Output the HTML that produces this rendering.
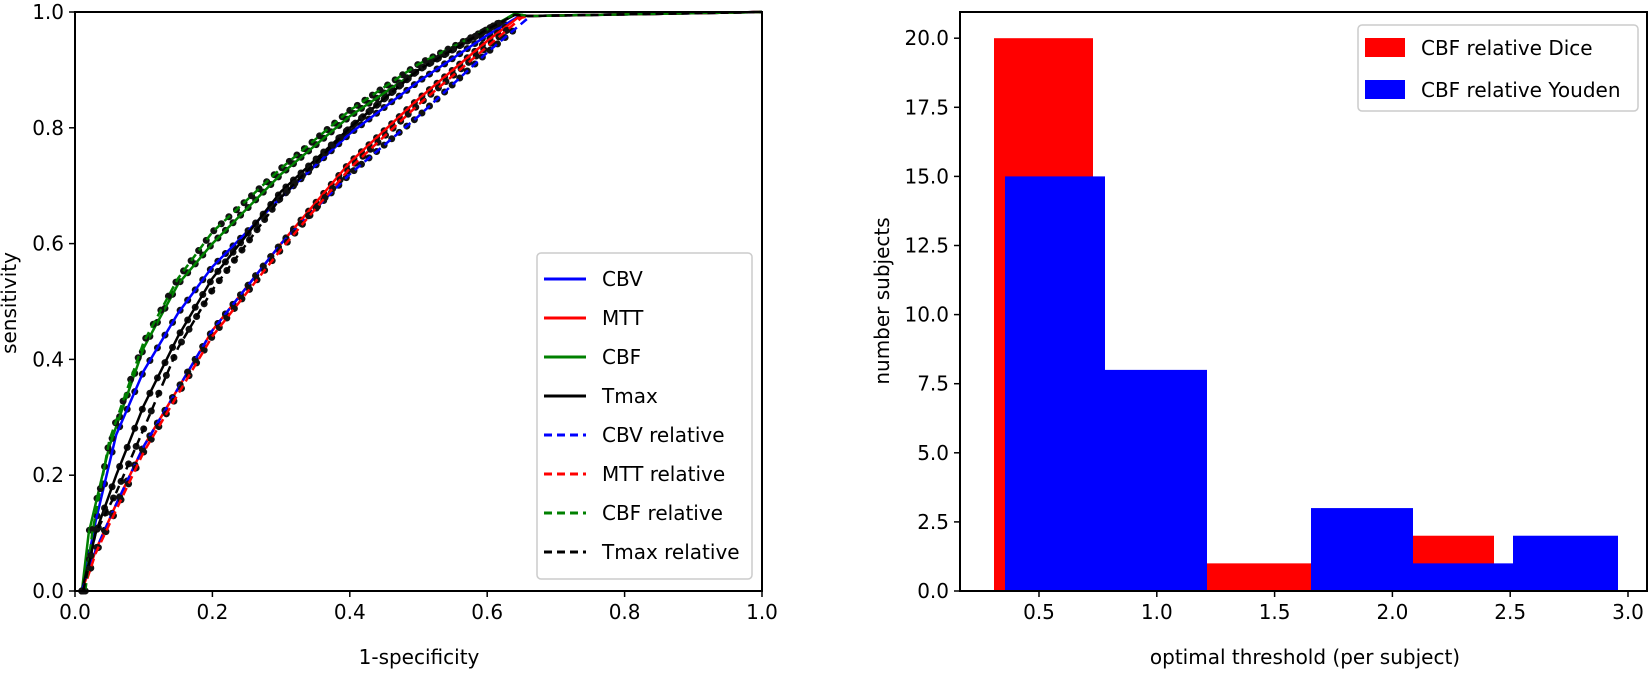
<!DOCTYPE html>
<html><head><meta charset="utf-8"><style>
html,body{margin:0;padding:0;background:#fff;}
svg{display:block;font-family:"DejaVu Sans","Liberation Sans",sans-serif;}
</style></head><body>
<svg id="s" width="1650" height="674" viewBox="0 0 1650 674" xmlns="http://www.w3.org/2000/svg">
<rect width="1650" height="674" fill="#fff"/>
<g id="curves"></g>
<rect x="75" y="12" width="687" height="579" fill="none" stroke="#000" stroke-width="2"/>
<g id="lt" font-size="20" fill="#000"></g>
<text x="419" y="664" font-size="20" text-anchor="middle">1-specificity</text>
<text transform="translate(16,303) rotate(-90)" font-size="20" text-anchor="middle">sensitivity</text>
<rect x="537" y="253" width="215" height="326" rx="4" fill="#fff" fill-opacity="0.85" stroke="#ccc" stroke-width="1.5"/>
<g font-size="20" id="leg"></g>
<g id="bars"></g>
<rect x="960" y="12" width="687" height="579" fill="none" stroke="#000" stroke-width="2"/>
<g id="rt" font-size="20"></g>
<text x="1305" y="664" font-size="20" text-anchor="middle">optimal threshold (per subject)</text>
<text transform="translate(889,301) rotate(-90)" font-size="20" text-anchor="middle">number subjects</text>
<rect x="1358" y="25" width="280" height="86" rx="4" fill="#fff" fill-opacity="0.85" stroke="#ccc" stroke-width="1.5"/>
<rect x="1365" y="38" width="40" height="19" fill="#f00"/>
<rect x="1365" y="80" width="40" height="19" fill="#00f"/>
<text x="1421" y="55" font-size="20">CBF relative Dice</text>
<text x="1421" y="97" font-size="20">CBF relative Youden</text>
</svg>
<script>
var NS="http://www.w3.org/2000/svg";
function el(t,a,p,txt){var e=document.createElementNS(NS,t);for(var k in a)e.setAttribute(k,a[k]);if(txt!==undefined)e.textContent=txt;document.getElementById(p).appendChild(e);return e;}
function X(v){return 75+687*v;}function Y(v){return 591-579*v;}
for(var i=0;i<=5;i++){var v=i*0.2;
el('line',{x1:X(v),x2:X(v),y1:591,y2:597,stroke:'#000','stroke-width':1.5},'lt');
el('text',{x:X(v),y:619,'text-anchor':'middle'},'lt',v.toFixed(1));
el('line',{x1:69,x2:75,y1:Y(v),y2:Y(v),stroke:'#000','stroke-width':1.5},'lt');
el('text',{x:64,y:Y(v)+7,'text-anchor':'end'},'lt',v.toFixed(1));}
var S=[
['#00f',0,[[0.01,0],[0.03,0.12],[0.06,0.27],[0.1,0.38],[0.15,0.48],[0.2,0.56],[0.3,0.68],[0.4,0.79],[0.5,0.88],[0.6,0.96],[0.65,0.995]]],
['#f00',0,[[0.01,0],[0.03,0.07],[0.06,0.15],[0.1,0.25],[0.15,0.35],[0.2,0.45],[0.3,0.6],[0.4,0.74],[0.5,0.85],[0.6,0.95],[0.65,0.995]]],
['#008000',0,[[0.01,0],[0.02,0.1],[0.05,0.25],[0.1,0.42],[0.15,0.53],[0.2,0.6],[0.3,0.72],[0.4,0.82],[0.5,0.9],[0.6,0.97],[0.64,0.997]]],
['#000',0,[[0.01,0],[0.03,0.1],[0.06,0.2],[0.1,0.32],[0.15,0.44],[0.2,0.54],[0.3,0.69],[0.4,0.8],[0.5,0.9],[0.6,0.97],[0.64,0.995]]],
['#00f',1,[[0.01,0],[0.03,0.07],[0.06,0.15],[0.1,0.25],[0.15,0.35],[0.2,0.45],[0.3,0.6],[0.4,0.72],[0.5,0.82],[0.6,0.93],[0.66,0.99]]],
['#f00',1,[[0.012,0],[0.03,0.065],[0.06,0.14],[0.1,0.24],[0.15,0.34],[0.2,0.44],[0.3,0.59],[0.4,0.73],[0.5,0.84],[0.6,0.94],[0.65,0.99]]],
['#008000',1,[[0.015,0],[0.025,0.1],[0.05,0.26],[0.1,0.43],[0.15,0.54],[0.2,0.62],[0.3,0.73],[0.4,0.83],[0.5,0.91],[0.6,0.97],[0.64,0.997]]],
['#000',1,[[0.012,0],[0.03,0.1],[0.06,0.17],[0.1,0.28],[0.15,0.42],[0.2,0.52],[0.3,0.68],[0.4,0.8],[0.5,0.9],[0.6,0.97],[0.64,0.995]]]];
function interp(P,x){for(var i=0;i<P.length-1;i++){if(x<=P[i+1][0]){var t=(x-P[i][0])/(P[i+1][0]-P[i][0]);return P[i][1]+t*(P[i+1][1]-P[i][1]);}}return P[P.length-1][1];}
S.forEach(function(s){var P=s[2];var pts=P.map(function(p){return X(p[0]).toFixed(1)+','+Y(p[1]).toFixed(1);});
pts.push(X(0.66)+','+Y(0.993));pts.push(X(1)+','+Y(1));
var x0=P[0][0],x1=P[P.length-1][0];
for(var x=x0;x<=x1-0.02;x+=0.011){el('circle',{cx:X(x),cy:Y(interp(P,x)),r:3.5,fill:'#111'},'curves');}
el('polyline',{points:pts.join(' '),fill:'none',stroke:s[0],'stroke-width':2.5,'stroke-dasharray':s[1]?'8,5':'none'},'curves');});
var L=[['CBV','#00f',0],['MTT','#f00',0],['CBF','#008000',0],['Tmax','#000',0],['CBV relative','#00f',1],['MTT relative','#f00',1],['CBF relative','#008000',1],['Tmax relative','#000',1]];
var ly=[279,318,357,396,435,474,513,552];
L.forEach(function(l,i){el('line',{x1:544,x2:586,y1:ly[i],y2:ly[i],stroke:l[1],'stroke-width':3,'stroke-dasharray':l[2]?'8,5':'none'},'leg');
el('text',{x:602,y:ly[i]+7},'leg',l[0]);});
function RX(v){return 921.2+235.6*v;}function RY(v){return 591-27.64*v;}
var R=[[994,1093,20],[1207,1311,1],[1413,1494,2]];
var B=[[1005,1105,15],[1105,1207,8],[1311,1413,3],[1413,1513,1],[1513,1618,2]];
R.forEach(function(b){el('rect',{x:b[0],y:RY(b[2]),width:b[1]-b[0],height:27.64*b[2],fill:'#f00'},'bars');});
B.forEach(function(b){el('rect',{x:b[0],y:RY(b[2]),width:b[1]-b[0],height:27.64*b[2],fill:'#00f'},'bars');});
for(var i=1;i<=6;i++){var v=i*0.5;el('line',{x1:RX(v),x2:RX(v),y1:591,y2:597,stroke:'#000','stroke-width':1.5},'rt');
el('text',{x:RX(v),y:619,'text-anchor':'middle'},'rt',v.toFixed(1));}
for(var i=0;i<=8;i++){var v=i*2.5;el('line',{x1:954,x2:960,y1:RY(v),y2:RY(v),stroke:'#000','stroke-width':1.5},'rt');
el('text',{x:949,y:RY(v)+7,'text-anchor':'end'},'rt',v.toFixed(1));}
</script>
</body></html>
